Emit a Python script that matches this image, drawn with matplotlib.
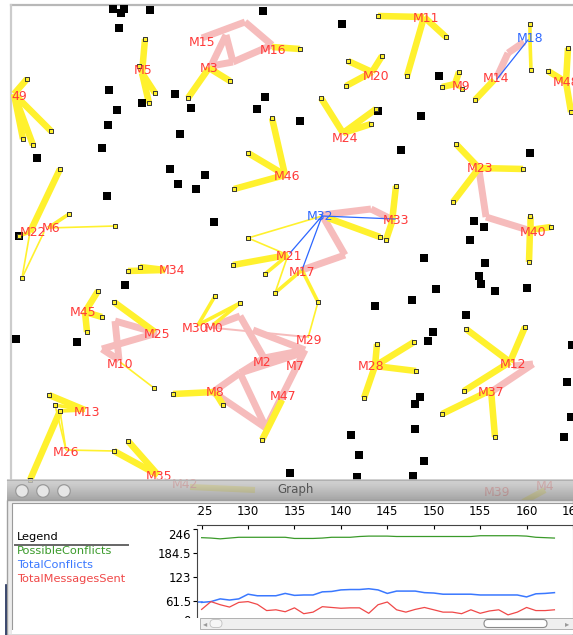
import matplotlib
matplotlib.use("Agg")
import matplotlib.pyplot as plt
from matplotlib.patches import Rectangle, Circle, FancyBboxPatch
from matplotlib.transforms import Bbox
import numpy as np

# ---- агенты на поле (подпись, x, y) в пикселях экрана
agent_names = ["49", "M5", "M15", "M3", "M16", "M11", "M20", "M9", "M14", "M18",
               "M24", "M46", "M23", "M22", "M6", "M32", "M33", "M40", "M21",
               "M17", "M34", "M45", "M25", "M30", "M0", "M29", "M10", "M2", "M7",
               "M28", "M12", "M8", "M47", "M37", "M13", "M26", "M35"]
agent_x = [19, 143, 202, 209, 273, 426, 376, 461, 496, 530,
           345, 287, 480, 33, 51, 320, 396, 533, 289,
           302, 172, 83, 157, 195, 214, 309, 120, 262, 295,
           371, 513, 215, 283, 491, 87, 66, 159]
agent_y = [96, 71, 43, 68, 50, 18, 76, 86, 79, 39,
           138, 177, 168, 233, 228, 216, 221, 232, 256,
           273, 271, 313, 335, 328, 328, 340, 364, 363, 366,
           367, 365, 393, 397, 392, 412, 452, 477]
blue_agents = ["M32", "M18"]

# агенты, которые просвечивают сквозь заголовок окна
faded_names = ["M42", "M39", "M4"]
faded_x = [185, 497, 545]
faded_y = [485, 493, 487]

# ---- жёлтые связи: x0, y0, x1, y1, вес (2 - толстая, 1 - средняя, 0 - тонкая)
yellow_links = [
    (14, 94, 27, 79, 2), (14, 94, 51, 131, 2), (14, 94, 23, 139, 2), (14, 94, 33, 145, 2),
    (142, 73, 145, 39, 2), (142, 73, 155, 93, 2), (142, 73, 149, 103, 2), (142, 73, 139, 66, 1),
    (209, 68, 188, 98, 2), (209, 68, 230, 81, 2),
    (272, 47, 300, 49, 2),
    (424, 17, 378, 16, 2), (424, 17, 446, 37, 2), (424, 17, 407, 76, 2),
    (372, 72, 348, 61, 2), (372, 72, 382, 56, 2), (372, 72, 346, 86, 2),
    (455, 84, 459, 72, 2), (455, 84, 442, 87, 2), (455, 84, 462, 89, 1),
    (494, 80, 475, 100, 2),
    (530, 40, 530, 24, 1), (530, 40, 531, 70, 1),
    (566, 82, 548, 71, 2), (566, 82, 568, 48, 2), (566, 82, 571, 112, 2),
    (343, 133, 321, 98, 2), (343, 133, 376, 109, 2), (343, 133, 371, 124, 2),
    (285, 175, 272, 118, 2), (285, 175, 248, 153, 2), (285, 175, 234, 189, 2),
    (479, 168, 456, 144, 2), (479, 168, 523, 169, 2), (479, 168, 453, 202, 2),
    (530, 230, 530, 216, 2), (530, 230, 551, 227, 2), (530, 230, 529, 262, 2),
    (392, 222, 396, 186, 2), (392, 222, 386, 240, 2), (328, 218, 380, 237, 2),
    (30, 232, 60, 169, 2), (30, 232, 19, 236, 1), (30, 232, 22, 278, 0),
    (48, 228, 69, 214, 1), (48, 228, 115, 226, 0), (44, 232, 22, 278, 0),
    (288, 255, 233, 265, 2), (288, 255, 265, 274, 1), (288, 255, 248, 238, 0),
    (288, 255, 275, 293, 0), (322, 216, 248, 238, 0),
    (302, 270, 275, 293, 1), (302, 270, 318, 302, 1), (308, 338, 318, 302, 0),
    (165, 270, 128, 271, 2), (165, 270, 140, 267, 2),
    (85, 312, 98, 291, 2), (85, 312, 102, 317, 2), (85, 312, 87, 332, 2),
    (155, 332, 114, 302, 2),
    (120, 362, 154, 388, 0),
    (198, 325, 215, 296, 1), (198, 325, 240, 303, 1), (213, 325, 240, 303, 1),
    (215, 392, 173, 394, 2), (215, 392, 223, 405, 2),
    (282, 400, 262, 440, 2),
    (375, 366, 377, 344, 2), (375, 366, 414, 342, 2), (375, 366, 416, 371, 2), (375, 366, 364, 398, 2),
    (510, 362, 466, 329, 2), (510, 362, 525, 327, 2), (510, 362, 464, 391, 2),
    (491, 390, 442, 414, 2), (491, 390, 495, 437, 2),
    (85, 410, 49, 395, 2), (85, 410, 55, 405, 1), (85, 410, 60, 411, 1),
    (66, 450, 55, 405, 0), (66, 450, 60, 411, 0), (66, 450, 114, 451, 0), (60, 411, 30, 480, 2),
    (158, 475, 128, 441, 2), (158, 475, 114, 451, 2),
]
faded_links = [(190, 487, 255, 490), (523, 502, 545, 490)]

# ---- розовые связи между агентами: x0, y0, x1, y1, вес
pink_links = [
    (202, 38, 245, 22, 2), (245, 22, 272, 45, 2), (272, 45, 233, 62, 2), (233, 62, 211, 66, 2),
    (226, 35, 211, 66, 2), (226, 35, 233, 62, 2),
    (497, 77, 508, 53, 2), (508, 53, 524, 42, 2),
    (479, 170, 486, 217, 2), (486, 217, 528, 230, 2),
    (322, 215, 371, 209, 2), (371, 209, 393, 220, 2), (322, 215, 345, 255, 2), (345, 255, 302, 270, 2),
    (115, 321, 157, 333, 2), (115, 321, 119, 360, 2), (157, 333, 102, 349, 2), (102, 349, 119, 360, 2),
    (213, 326, 240, 316, 2), (205, 327, 307, 337, 0),
    (240, 316, 264, 358, 2), (253, 330, 305, 350, 2), (264, 358, 305, 350, 2), (240, 373, 305, 352, 2),
    (240, 373, 213, 392, 2), (240, 373, 266, 428, 2), (266, 428, 213, 392, 2), (305, 350, 266, 428, 2),
    (264, 358, 240, 373, 2),
    (513, 366, 533, 364, 2), (491, 392, 533, 364, 2),
]

# ---- синие связи
blue_links = [(322, 216, 395, 219), (322, 216, 290, 253), (322, 216, 302, 270), (497, 79, 528, 40)]

# ---- отдельные чёрные квадраты (цели)
square_x = [113, 124, 121, 150, 119, 263, 109, 117, 175, 142, 191, 265, 257, 108, 180, 102, 37,
            170, 205, 178, 196, 107, 214, 342, 439, 300, 421, 401, 530, 378, 474, 484, 470,
            424, 485, 479, 481, 495, 527, 436, 412, 375, 466, 433, 428, 572, 567, 420, 415,
            571, 415, 564, 351, 359, 424, 290, 357, 413, 125, 16, 77, 19]
square_y = [9, 9, 13, 10, 28, 11, 90, 110, 94, 103, 108, 97, 109, 125, 134, 148, 158,
            169, 175, 184, 189, 196, 222, 24, 76, 121, 116, 150, 153, 111, 221, 227, 240,
            258, 263, 276, 284, 291, 288, 289, 300, 306, 315, 332, 341, 345, 382, 397, 404,
            417, 429, 437, 435, 455, 461, 473, 477, 476, 285, 339, 342, 236]

# ---- данные окна Graph
steps = [125, 126, 127, 128, 129, 130, 131, 132, 133, 134, 135, 136, 137,
         138, 139, 140, 141, 142, 143, 144, 145, 146, 147, 148, 149, 150,
         151, 152, 153, 154, 155, 156, 157, 158, 159, 160, 161, 162, 163]
possible_conflicts = [223, 222, 220, 222, 224, 224, 224, 224, 224, 224, 221, 221, 221,
                      222, 224, 224, 224, 226, 227, 227, 227, 226, 226, 226, 226, 226,
                      226, 226, 226, 226, 228, 228, 228, 228, 228, 227, 224, 223, 222]
total_conflicts = [57, 59, 66, 63, 66, 78, 74, 74, 74, 80, 75, 76, 76,
                   84, 85, 89, 90, 90, 92, 89, 80, 86, 86, 86, 82, 81,
                   78, 78, 78, 78, 76, 76, 76, 76, 76, 71, 79, 80, 82]
total_messages = [39, 59, 51, 45, 57, 59, 52, 36, 38, 33, 43, 28, 32,
                  46, 44, 42, 43, 43, 29, 51, 58, 38, 32, 39, 44, 38,
                  32, 32, 28, 38, 29, 35, 38, 25, 32, 44, 36, 36, 38]
y_ticks = [0, 61.5, 123, 184.5, 246]
y_tick_labels = ["0", "61.5", "123", "184.5", "246"]
x_ticks = [125, 130, 135, 140, 145, 150, 155, 160, 165]
legend_names = ["PossibleConflicts", "TotalConflicts", "TotalMessagesSent"]
legend_colors = ["#3a9a2a", "#3a78ff", "#f04848"]

YELLOW = "#fff12e"
PINK = "#f6bcbc"
RED = "#ff3a3a"
BLUE = "#2c66ff"
yellow_w = {2: 4.7, 1: 2.6, 0: 1.2}
pink_w = {2: 5.0, 0: 1.4}

fig = plt.figure(figsize=(5.73, 6.35), dpi=100)
ax = fig.add_axes([0, 0, 1, 1])
ax.set_xlim(0, 573)
ax.set_ylim(635, 0)
ax.axis("off")

# рамка поля
ax.plot([11, 573], [5, 5], color="#b8b8b8", lw=1.6, zorder=0)
ax.plot([11, 11], [5, 480], color="#cccccc", lw=1.6, zorder=0)

for x0, y0, x1, y1, w in pink_links:
    ax.plot([x0, x1], [y0, y1], color=PINK, lw=pink_w[w], solid_capstyle="butt", zorder=1)

for x0, y0, x1, y1, w in yellow_links:
    ax.plot([x0, x1], [y0, y1], color=YELLOW, lw=yellow_w[w], solid_capstyle="butt", zorder=2)

for x0, y0, x1, y1 in blue_links:
    ax.plot([x0, x1], [y0, y1], color=BLUE, lw=0.9, zorder=3)

ax.scatter(square_x, square_y, marker="s", s=26, color="black", zorder=4, linewidths=0)

# концы жёлтых связей - маленькие квадратики
ends = {(l[2], l[3]) for l in yellow_links}
ax.scatter([e[0] for e in ends], [e[1] for e in ends], marker="s", s=12,
           facecolors=YELLOW, edgecolors="#333333", linewidths=0.7, zorder=4)

for name, x, y in zip(agent_names, agent_x, agent_y):
    c = BLUE if name in blue_agents else RED
    ax.text(x, y, name, color=c, fontsize=9, ha="center", va="center", zorder=5)
ax.text(553, 83, "M48", color=RED, fontsize=9, ha="left", va="center", zorder=5, clip_on=True)

# то, что видно сквозь полупрозрачный заголовок
for x0, y0, x1, y1 in faded_links:
    ax.plot([x0, x1], [y0, y1], color=YELLOW, lw=4.4, solid_capstyle="butt", zorder=6)
for name, x, y in zip(faded_names, faded_x, faded_y):
    ax.text(x, y, name, color=RED, fontsize=9, ha="center", va="center", zorder=6)

# ---- окно Graph
ax.add_patch(Rectangle((7, 500), 566, 135, facecolor="#ececec", edgecolor="#a0a0a0", lw=1, zorder=10))
grad = np.linspace(0, 1, 20).reshape(-1, 1)
ax.imshow(grad, extent=(7, 573, 500, 479), cmap="Greys", vmin=-1.6, vmax=3.5,
          alpha=0.82, zorder=11, aspect="auto")
ax.plot([7, 573], [479.5, 479.5], color="#b0b0b0", lw=0.8, zorder=12)
for cx in [22, 43, 64]:
    ax.add_patch(Circle((cx, 491), 6.3, facecolor="#e6e6e6", edgecolor="#9a9a9a", lw=0.9, zorder=12))
ax.text(296, 490, "Graph", color="#555555", fontsize=8.5, ha="center", va="center", zorder=12)
ax.add_patch(Rectangle((12, 503), 561, 130, facecolor="white", edgecolor="#9a9a9a", lw=0.8, zorder=12))
ax.plot([6, 6], [585, 635], color="#1a2a55", lw=1.2, zorder=12)

# легенда
ax.text(17, 537, "Legend", fontsize=8.2, color="black", ha="left", va="center", zorder=13)
ax.plot([15, 128], [544.5, 544.5], color="#666666", lw=1.4, zorder=13)
for name, col, y in zip(legend_names, legend_colors, [551, 565, 579]):
    ax.text(17, y, name, fontsize=8.2, color=col, ha="left", va="center", zorder=13)

# ---- сам график
gx = fig.add_axes([197 / 573, 1 - 625 / 635, 376 / 573, 100 / 635], zorder=20)
gx.patch.set_alpha(0)
gx.plot(steps, possible_conflicts, color=legend_colors[0], lw=0.9)
gx.plot(steps, total_conflicts, color=legend_colors[1], lw=1.1)
gx.plot([124.5, 125], [total_conflicts[0], total_conflicts[0]], color=legend_colors[1], lw=1.1)
gx.plot(steps, total_messages, color=legend_colors[2], lw=0.9)
gx.set_xlim(124.5, 164.2)
gx.set_ylim(-1, 255.5)
gx.set_yticks(y_ticks)
gx.set_yticklabels(y_tick_labels)
gx.set_xticks(x_ticks)
gx.xaxis.tick_top()
gx.tick_params(axis="x", direction="in", length=3, pad=5, labelsize=8.5, width=0.8)
gx.tick_params(axis="y", direction="out", length=3, pad=1.5, labelsize=8.5, width=0.8)
gx.spines["right"].set_visible(False)
gx.spines["bottom"].set_visible(False)
gx.spines["left"].set_bounds(0, 246)
gx.spines["top"].set_color("#444444")
gx.spines["left"].set_color("#444444")

fig.canvas.draw()
ylbls = gx.get_yticklabels()
ylbls[-1].set_va("top")
ylbls[0].set_va("baseline")
clip = Bbox.from_extents(197, 0, 573, 635)
for lbl in gx.get_xticklabels():
    lbl.set_clip_box(clip)
    lbl.set_clip_on(True)

# полоса прокрутки поверх графика, нижний край графика прячется под ней
sx = fig.add_axes([0, 0, 1, 1], zorder=30)
sx.set_xlim(0, 573)
sx.set_ylim(635, 0)
sx.axis("off")
sx.patch.set_alpha(0)
sx.add_patch(Rectangle((140, 617.5), 60, 12, facecolor="white", edgecolor="none"))
sx.add_patch(Rectangle((200, 618), 373, 11, facecolor="#efefef", edgecolor="#b0b0b0", lw=0.7))
sx.add_patch(FancyBboxPatch((484, 619.5), 63, 8, boxstyle="round,pad=0,rounding_size=4",
                            facecolor="white", edgecolor="#8a8a8a", lw=0.8))
sx.add_patch(FancyBboxPatch((210, 619.5), 12, 8, boxstyle="round,pad=0,rounding_size=4",
                            facecolor="#f6f6f6", edgecolor="#c0c0c0", lw=0.6))
sx.text(205, 623.5, "◂", fontsize=6, color="#999999", ha="center", va="center")
sx.text(567, 623.5, "▸", fontsize=6, color="#999999", ha="center", va="center")
sx.add_patch(Rectangle((12, 629.5), 561, 4, facecolor="white", edgecolor="none"))

fig.savefig("out.png", dpi=100)
